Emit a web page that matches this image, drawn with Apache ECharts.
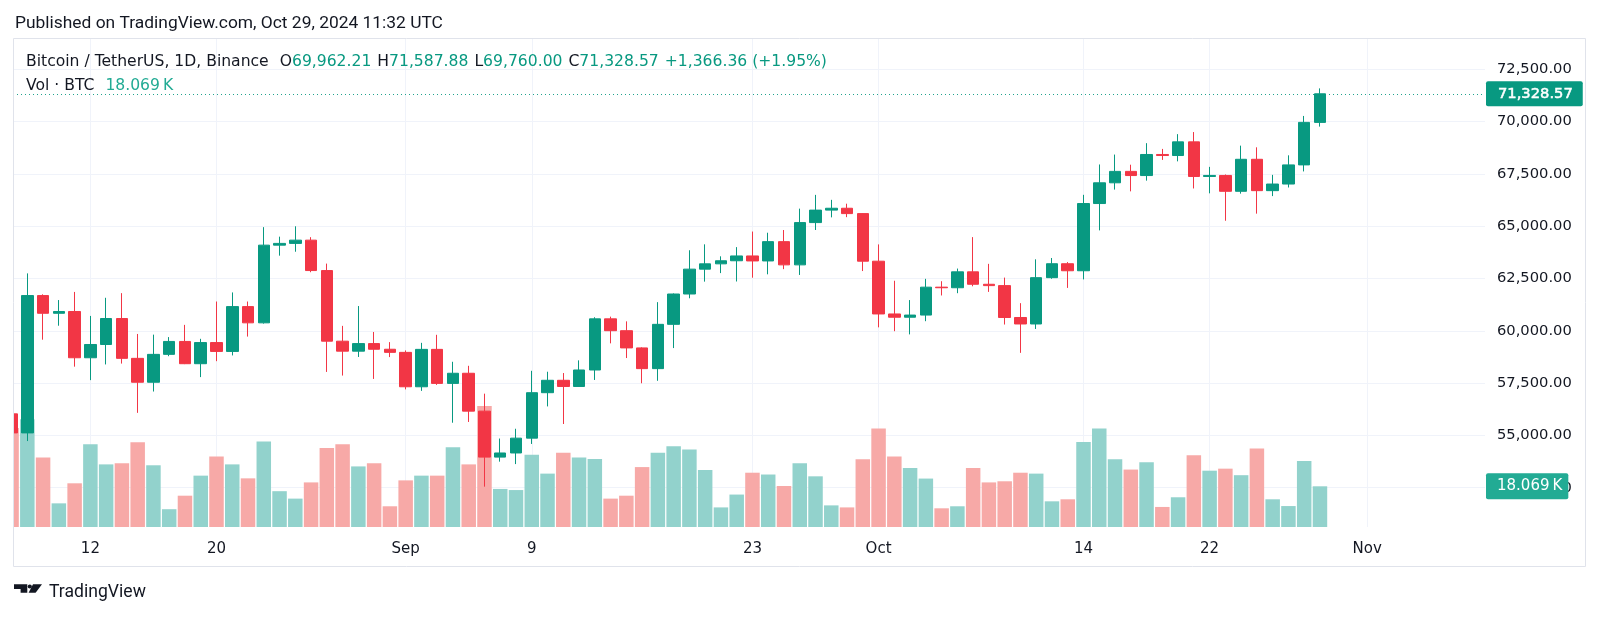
<!DOCTYPE html>
<html>
<head>
<meta charset="utf-8">
<script src="https://cdn.jsdelivr.net/npm/echarts@6/dist/echarts.min.js"></script>
<style>
html,body{margin:0;padding:0;background:#fff;}
#chart{width:1600px;height:618px;}
</style>
</head>
<body>
<div id="chart"></div>
<script>
// ---- data (BTC/USDT daily, Binance) ----
const dates = [
 '2024-08-07','2024-08-08','2024-08-09','2024-08-10','2024-08-11','2024-08-12','2024-08-13','2024-08-14','2024-08-15','2024-08-16',
 '2024-08-17','2024-08-18','2024-08-19','2024-08-20','2024-08-21','2024-08-22','2024-08-23','2024-08-24','2024-08-25','2024-08-26',
 '2024-08-27','2024-08-28','2024-08-29','2024-08-30','2024-08-31','2024-09-01','2024-09-02','2024-09-03','2024-09-04','2024-09-05',
 '2024-09-06','2024-09-07','2024-09-08','2024-09-09','2024-09-10','2024-09-11','2024-09-12','2024-09-13','2024-09-14','2024-09-15',
 '2024-09-16','2024-09-17','2024-09-18','2024-09-19','2024-09-20','2024-09-21','2024-09-22','2024-09-23','2024-09-24','2024-09-25',
 '2024-09-26','2024-09-27','2024-09-28','2024-09-29','2024-09-30','2024-10-01','2024-10-02','2024-10-03','2024-10-04','2024-10-05',
 '2024-10-06','2024-10-07','2024-10-08','2024-10-09','2024-10-10','2024-10-11','2024-10-12','2024-10-13','2024-10-14','2024-10-15',
 '2024-10-16','2024-10-17','2024-10-18','2024-10-19','2024-10-20','2024-10-21','2024-10-22','2024-10-23','2024-10-24','2024-10-25',
 '2024-10-26','2024-10-27','2024-10-28','2024-10-29'
];
const open = [
 56030,55120,61685,60837,60923,58712,59346,60587,58683,57541,
 58874,59491,58427,59438,59013,61157,60381,64094,64178,64333,
 62880,59504,59027,59389,59119,58969,57325,59113,57487,57971,
 56160,53962,54160,54869,57042,57635,57339,58127,60571,60005,
 59182,58192,60309,61759,62947,63201,63348,63578,63339,64262,
 63152,65173,65769,65858,65602,63327,60805,60649,60752,62086,
 62058,62819,62224,62160,60636,60326,62540,63206,62870,66083,
 67074,67620,67421,68428,68378,69031,67377,67426,66668,68198,
 66699,67015,67930,69962.21
];
const high = [
 57736,62745,61744,61470,61858,60711,61578,61800,59849,59817,
 59700,60284,59617,61400,61834,61400,64955,64500,64996,64476,
 63212,60236,61184,59944,59459,59062,59425,59809,58520,58327,
 56995,54850,55318,58088,58044,57981,58588,60648,60677,60452,
 59211,61370,61786,63850,64133,63560,64000,64745,64688,64817,
 65839,66498,66260,66076,65618,64130,62392,61469,62484,62370,
 62975,64478,63200,62543,61321,63417,63480,63285,66500,67950,
 68424,67939,68969,68694,69400,69500,67836,67472,68850,68771,
 67454,68388,70270,71587.88
];
const low = [
 54558,54730,59575,60243,58286,57642,58392,58433,56078,57098,
 58786,58408,57787,58548,58823,59724,60345,63592,63780,62800,
 58034,57860,58750,57700,58744,57201,57128,57415,55606,55643,
 52550,53745,53629,54591,56386,55545,57324,57650,59400,58698,
 57493,57610,59175,61555,62350,62758,62357,62538,62700,62947,
 62670,64819,65422,65432,62856,60165,59981,59828,60459,61689,
 61798,62128,61860,60300,58946,60087,62487,62050,62457,64800,
 66750,66666,67177,68169,68100,66803,66571,65260,66556,65600,
 66439,66850,67618,69760.00
];
const close = [
 55120,61685,60837,60923,58712,59346,60587,58683,57541,58874,
 59491,58427,59438,59013,61157,60381,64094,64178,64333,62880,
 59504,59027,59389,59119,58969,57325,59113,57487,57971,56160,
 53962,54160,54869,57042,57635,57339,58127,60571,60005,59182,
 58192,60309,61759,62947,63201,63348,63578,63339,64262,63152,
 65173,65769,65858,65602,63327,60805,60649,60752,62086,62058,
 62819,62224,62160,60636,60326,62540,63206,62870,66083,67074,
 67620,67421,68428,68378,69031,67377,67426,66668,68198,66699,
 67015,67930,69962.21,71328.57
];
const volume = [
 44000,47800,30900,10500,19400,36700,27800,28300,37600,27400,
 7900,13900,22800,31300,27800,21600,38000,15900,12600,19800,
 35100,36700,26900,28300,9200,20700,22800,22800,35400,27800,
 53700,16900,16400,32100,23700,33000,30800,30200,12600,13900,
 26600,33000,35800,34400,25300,8700,14400,24100,23300,18200,
 28300,22500,9600,8700,30100,43700,31300,26200,21500,8300,
 9200,26200,19800,20300,24100,23700,11400,12300,37700,43700,
 30100,25500,28700,8900,13200,31800,25000,25900,23000,34800,
 12300,9300,29300,18069
];
const tickDates = ['2024-08-12','2024-08-20','2024-09-01','2024-09-09','2024-09-23','2024-10-01','2024-10-14','2024-10-22','2024-11-01'];
const tickLabels = ['12','20','Sep','9','23','Oct','14','22','Nov'];
const priceTicks = [52500,55000,57500,60000,62500,65000,67500,70000,72500];

// ---- helpers ----
const DAY = 86400000;
const t0 = Date.parse(dates[0]);
const dayIdx = s => Math.round((Date.parse(s) - t0) / DAY);
const fmt2 = v => v.toLocaleString('en-US', {minimumFractionDigits: 2, maximumFractionDigits: 2});
const UP = '#089981', DOWN = '#f23645';
const VUP = '#92d2cc', VDOWN = '#f7a9a7';
const TXT = '#131722';
const FONT = '"DejaVu Sans", sans-serif';
const TFONT = 'Roboto, "Liberation Sans", sans-serif';

const tickIdx = tickDates.map(dayIdx);
const labelOf = {};
tickIdx.forEach((d, i) => { labelOf[d] = tickLabels[i]; });

const candleData = dates.map((s, i) => [dayIdx(s), open[i], close[i], low[i], high[i]]);
const volData = dates.map((s, i) => ({
  value: [dayIdx(s), volume[i]],
  itemStyle: {color: close[i] >= open[i] ? VUP : VDOWN}
}));

const n = dates.length - 1;
const lastO = open[n], lastH = high[n], lastL = low[n], lastC = close[n];
const chg = lastC - close[n - 1];
const chgPct = chg / close[n - 1] * 100;
const sign = chg >= 0 ? '+' : '\u2212';
const vk = lastC >= lastO ? 'v' : 'r';
const volK = (volume[n] / 1000).toFixed(3) + '\u2009K';

const LFS = 15.6;
const legendRich = {
  n: {color: TXT, fontSize: LFS, fontFamily: FONT, lineHeight: 16},
  k: {color: TXT, fontSize: LFS, fontFamily: FONT, lineHeight: 16},
  v: {color: UP, fontSize: LFS, fontFamily: FONT, lineHeight: 16},
  r: {color: DOWN, fontSize: LFS, fontFamily: FONT, lineHeight: 16},
  g1: {width: 11, fontSize: LFS, lineHeight: 16},
  g: {width: 6, fontSize: LFS, lineHeight: 16}
};
const legendText =
  '{n|Bitcoin / TetherUS, 1D, Binance}{g1| }' +
  '{k|O}{' + vk + '|' + fmt2(lastO) + '}{g| }' +
  '{k|H}{' + vk + '|' + fmt2(lastH) + '}{g| }' +
  '{k|L}{' + vk + '|' + fmt2(lastL) + '}{g| }' +
  '{k|C}{' + vk + '|' + fmt2(lastC) + '}{g| }' +
  '{' + vk + '|' + sign + fmt2(Math.abs(chg)) + ' (' + sign + Math.abs(chgPct).toFixed(2) + '%)}';

const chart = echarts.init(document.getElementById('chart'), null, {renderer: 'canvas'});

chart.setOption({
  animation: false,
  backgroundColor: '#ffffff',
  textStyle: {fontFamily: FONT},
  title: [
    {
      text: 'Published on TradingView.com, Oct 29, 2024 11:32 UTC',
      left: 15, top: 14.6, padding: 0,
      textStyle: {fontFamily: TFONT, fontSize: 17.4, lineHeight: 17.4, fontWeight: 'normal', color: TXT}
    },
    {
      text: legendText,
      left: 26, top: 53.6, padding: 0,
      textStyle: {fontFamily: FONT, fontSize: LFS, lineHeight: 16, fontWeight: 'normal', color: TXT, rich: legendRich}
    },
    {
      text: '{n|Vol \u00b7 BTC}{g1| }{w|' + volK + '}',
      left: 26, top: 78, padding: 0,
      textStyle: {
        fontFamily: FONT, fontSize: LFS, lineHeight: 16, fontWeight: 'normal', color: TXT,
        rich: Object.assign({}, legendRich, {w: {color: '#22ab94', fontSize: LFS, fontFamily: FONT, lineHeight: 16}})
      }
    }
  ],
  grid: {left: 13, right: 115, top: 39, bottom: 91, containLabel: false},
  xAxis: {
    type: 'value',
    min: 0.091, max: 93.47,
    axisLine: {show: false},
    axisTick: {show: false, customValues: tickIdx},
    axisLabel: {
      customValues: tickIdx,
      formatter: v => labelOf[Math.round(v)] || '',
      color: TXT, fontSize: 15, fontFamily: FONT, margin: 15
    },
    splitLine: {show: true, lineStyle: {color: '#f0f3fa', width: 1}}
  },
  yAxis: [
    {
      type: 'value', position: 'right',
      min: 50622, max: 73948,
      axisLine: {show: false},
      axisTick: {show: false, customValues: priceTicks},
      axisLabel: {
        customValues: priceTicks,
        formatter: v => fmt2(v),
        color: TXT, fontSize: 14.7, fontFamily: FONT, margin: 12
      },
      splitLine: {show: true, lineStyle: {color: '#f0f3fa', width: 1}}
    },
    {
      type: 'value', min: 0, max: 216650,
      show: false,
      splitLine: {show: false}
    }
  ],
  series: [
    {
      type: 'bar', name: 'Volume',
      xAxisIndex: 0, yAxisIndex: 1,
      data: volData,
      barWidth: 14.5,
      clip: true,
      z: 2,
      silent: true,
      markLine: {
        silent: true, symbol: ['none', 'none'],
        lineStyle: {color: 'rgba(0,0,0,0)', width: 1},
        label: {
          show: true, position: 'end', distance: 1,
          formatter: volK,
          color: '#ffffff', backgroundColor: '#22ab94', opacity: 1,
          fontSize: 15, fontFamily: FONT, lineHeight: 16,
          padding: [5, 6, 5, 11], borderRadius: 2
        },
        data: [{yAxis: volume[n]}]
      }
    },
    {
      type: 'candlestick', name: 'BTCUSDT',
      xAxisIndex: 0, yAxisIndex: 0,
      data: candleData,
      encode: {x: 0, y: [1, 2, 3, 4]},
      barWidth: 12,
      clip: true,
      z: 3,
      silent: true,
      itemStyle: {color: UP, color0: DOWN, borderColor: UP, borderColor0: DOWN, borderWidth: 1},
      markLine: {
        silent: true, symbol: ['none', 'none'],
        lineStyle: {color: UP, type: [1, 3], width: 1, opacity: 0.9},
        label: {
          show: true, position: 'end', distance: 1,
          formatter: fmt2(lastC),
          color: '#ffffff', backgroundColor: UP, opacity: 1,
          fontSize: 14.7, fontFamily: FONT, lineHeight: 15,
          textBorderColor: '#ffffff', textBorderWidth: 0.5,
          padding: [5, 10, 5, 12], borderRadius: 2
        },
        data: [{yAxis: lastC}]
      }
    }
  ],
  graphic: [
    {
      type: 'rect', z: 99, silent: true,
      shape: {x: 0, y: 38, width: 13.2, height: 490},
      style: {fill: '#ffffff'}
    },
    {
      type: 'rect', z: 100, silent: true,
      shape: {x: 13.5, y: 38.5, width: 1572, height: 528},
      style: {fill: 'none', stroke: '#e0e3eb', lineWidth: 1}
    },
    {
      type: 'group', z: 100, silent: true,
      children: [
        {type: 'polygon', shape: {points: [[14,584.3],[27.3,584.3],[27.3,592.7],[20.6,592.7],[20.6,589],[14,589]]}, style: {fill: TXT}},
        {type: 'circle', shape: {cx: 29.8, cy: 586.5, r: 2.1}, style: {fill: TXT}},
        {type: 'polygon', shape: {points: [[33,584.3],[42,584.3],[35.6,592.7],[28.6,592.7]]}, style: {fill: TXT}},
        {type: 'text', style: {text: 'TradingView', x: 49, y: 593, fill: TXT, font: '17.6px ' + TFONT, textVerticalAlign: 'middle'}}
      ]
    }
  ]
});
</script>
</body>
</html>
